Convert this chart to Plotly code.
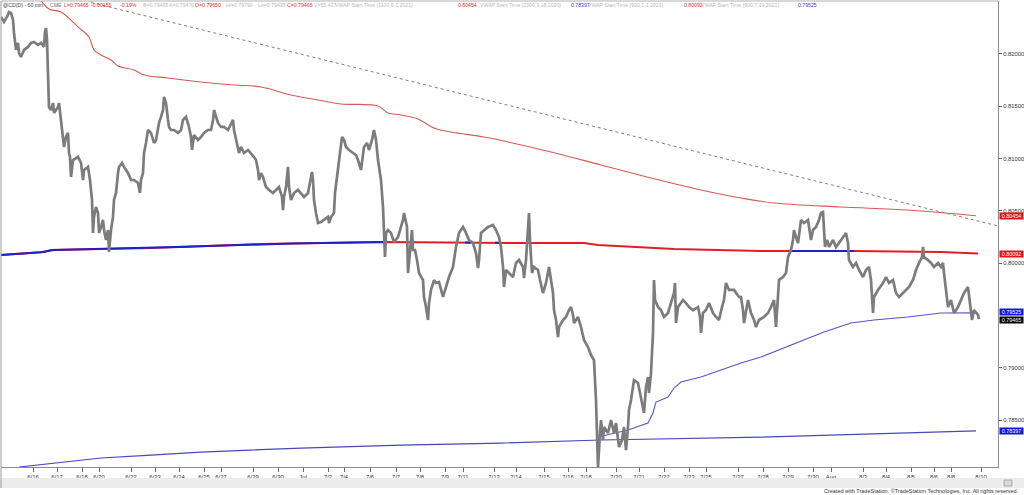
import numpy as np
import plotly.graph_objects as go

# ---------------- data ----------------
# hourly price path (bar index, close)
price_points = [
    (0,0.82353),(3,0.82306),(7,0.82373),(8,0.82401),(10,0.82392),(12,0.82325),(13,0.82201),(14,0.82105),
    (15,0.82038),(17,0.82105),(18,0.82009),(20,0.81971),(23,0.82038),(27,0.82067),(30,0.82105),(33,0.82114),
    (37,0.82086),(40,0.82105),(43,0.82067),(44,0.82210),(45,0.82248),(46,0.82134),(47,0.81723),(48,0.81493),
    (50,0.81464),(52,0.81531),(53,0.81436),(57,0.81493),(58,0.81531),(60,0.81340),(62,0.81178),(63,0.81111),
    (65,0.81206),(67,0.81245),(68,0.81053),(69,0.81015),(70,0.80824),(72,0.80986),(77,0.81015),(80,0.80958),
    (82,0.80795),(83,0.80891),(87,0.80920),(89,0.80795),(91,0.80604),(92,0.80289),(93,0.80442),(95,0.80537),
    (97,0.80480),(98,0.80289),(100,0.80346),(102,0.80413),(103,0.80317),(105,0.80222),(107,0.80317),(108,0.80107),
    (110,0.80317),(112,0.80442),(113,0.80604),(115,0.80671),(117,0.80862),(118,0.80920),(121,0.80958),(123,0.80920),
    (127,0.80862),(130,0.80795),(133,0.80795),(137,0.80767),(139,0.80671),(140,0.80795),(142,0.80862),(143,0.81053),
    (145,0.81149),(147,0.81273),(150,0.81245),(152,0.81178),(153,0.81149),(155,0.81178),(157,0.81273),(158,0.81340),
    (160,0.81398),(162,0.81464),(163,0.81589),(165,0.81531),(167,0.81369),(168,0.81302),(170,0.81273),(173,0.81273),
    (177,0.81245),(180,0.81273),(182,0.81369),(185,0.81398),(188,0.81302),(190,0.81206),(191,0.81082),(192,0.81178),
    (193,0.81225),(197,0.81178),(200,0.81206),(203,0.81245),(207,0.81273),(210,0.81273),(212,0.81369),(213,0.81464),
    (215,0.81398),(217,0.81340),(220,0.81302),(223,0.81302),(227,0.81273),(230,0.81340),(232,0.81369),(233,0.81273),
    (235,0.81178),(237,0.81082),(238,0.81053),(240,0.81111),(243,0.81053),(247,0.81082),(250,0.81053),(253,0.81015),
    (255,0.80986),(257,0.80891),(258,0.80795),(260,0.80862),
    (262,0.80824),(265,0.80728),(268,0.80700),(272,0.80671),(275,0.80700),(278,0.80728),(281,0.80633),(282,0.80508),
    (283,0.80633),(285,0.80728),(287,0.80920),(288,0.80728),(290,0.80604),(293,0.80671),(297,0.80700),(300,0.80671),
    (303,0.80633),(307,0.80671),(309,0.80767),(311,0.80872),(312,0.80795),(313,0.80604),(315,0.80480),(317,0.80384),
    (320,0.80394),(323,0.80413),(327,0.80442),(328,0.80384),(330,0.80442),(333,0.80480),(334,0.80671),(336,0.80824),
    (338,0.80986),(341,0.81206),(343,0.81178),(345,0.81111),(348,0.81082),(352,0.81053),(355,0.81034),(357,0.80986),
    (360,0.80891),(363,0.81111),(366,0.81149),(368,0.81082),(371,0.81178),(373,0.81273),(375,0.81178),(377,0.80986),
    (378,0.80920),(380,0.80795),(382,0.80537),(383,0.80289),(384,0.80059),(385,0.80289),(387,0.80317),(390,0.80289),
    (393,0.80203),(397,0.80250),(400,0.80346),(402,0.80413),(403,0.80480),(405,0.80384),(406,0.80346),(407,0.79906),
    (409,0.80155),(411,0.80317),(412,0.80126),(414,0.80126),(416,0.80030),(418,0.79906),(422,0.79839),(423,0.79677),
    (425,0.79581),(427,0.79457),(428,0.79619),(430,0.79744),(433,0.79839),(435,0.79811),(438,0.79820),(442,0.79677),
    (445,0.79772),(448,0.79868),(452,0.79964),(455,0.80155),(458,0.80289),(462,0.80346),(465,0.80289),(468,0.80222),
    (472,0.80193),(475,0.80097),(477,0.79954),(478,0.80030),(480,0.80289),(483,0.80317),(487,0.80346),(492,0.80365),
    (495,0.80317),(498,0.80250),
    (500,0.80155),(502,0.79964),(503,0.79772),(505,0.79935),(508,0.79906),(512,0.79868),(515,0.80002),(518,0.80030),
    (522,0.79964),(523,0.79858),(525,0.80030),(527,0.80317),(528,0.80480),(529,0.80222),(531,0.79906),(533,0.79964),
    (537,0.79935),(539,0.79839),(542,0.79715),(545,0.79811),(548,0.79964),(550,0.79839),(552,0.79715),(553,0.79552),
    (555,0.79457),(557,0.79294),(558,0.79390),(562,0.79457),(565,0.79486),(568,0.79552),(570,0.79581),(572,0.79505),
    (573,0.79428),(577,0.79486),(580,0.79390),(583,0.79266),(587,0.79199),(590,0.79122),(593,0.79074),(595,0.78692),
    (596,0.78377),(597,0.78052),(599,0.78377),(600,0.78501),(602,0.78310),(603,0.78434),(607,0.78377),(610,0.78501),
    (613,0.78377),(615,0.78472),(618,0.78243),(621,0.78310),(623,0.78434),(625,0.78214),(627,0.78434),(628,0.78596),
    (630,0.78692),(633,0.78883),(637,0.78855),(639,0.78759),(642,0.78596),(643,0.78568),(645,0.78816),(647,0.78912),
    (648,0.78759),(650,0.78950),(652,0.79333),(653,0.79839),(654,0.79648),(657,0.79581),(660,0.79552),(663,0.79486),
    (667,0.79524),(670,0.79619),(673,0.79715),(674,0.79811),(675,0.79428),(677,0.79581),(682,0.79648),(685,0.79619),
    (688,0.79581),(692,0.79552),(697,0.79581),(699,0.79486),(700,0.79333),(702,0.79524),(705,0.79552),(708,0.79619),
    (712,0.79524),(715,0.79486),(718,0.79457),(721,0.79581),(723,0.79648),(725,0.79811),(728,0.79744),(733,0.79744),
    (738,0.79677),(740,0.79677),(742,0.79552),(743,0.79428),(747,0.79648),(750,0.79524),(753,0.79457),(755,0.79390),
    (758,0.79457),(763,0.79486),(767,0.79524),(770,0.79581),(773,0.79648),(775,0.79390),(777,0.79648),(778,0.79839),
    (782,0.79868),(785,0.79906),(787,0.80059),(790,0.80126),(792,0.80222),(793,0.80317),(795,0.80250),(797,0.80193),
    (800,0.80413),(803,0.80384),(807,0.80413),(810,0.80222),(812,0.80317),(815,0.80346),(818,0.80413),(820,0.80480),
    (822,0.80489),(823,0.80317),(824,0.80155),(826,0.80222),(828,0.80155),(832,0.80222),(835,0.80155),(838,0.80193),
    (842,0.80250),(845,0.80289),(847,0.80193),(848,0.80030),(852,0.79964),(855,0.80002),(858,0.79935),(862,0.79868),
    (865,0.79935),(868,0.79964),(870,0.79839),(872,0.79524),(873,0.79677),(877,0.79744),(882,0.79811),(885,0.79868),
    (888,0.79811),(892,0.79839),(895,0.79715),(898,0.79677),(902,0.79715),(905,0.79744),(908,0.79772),(912,0.79839),
    (915,0.79935),(918,0.80002),(921,0.80059),(922,0.80155),(923,0.80059),(927,0.80030),(930,0.80002),(933,0.79964),
    (937,0.80002),(940,0.79964),(942,0.80002),(943,0.79906),(945,0.79715),(947,0.79581),(950,0.79648),(953,0.79524),
    (957,0.79581),(960,0.79648),(963,0.79715),(967,0.79772),(969,0.79619),(971,0.79457),(973,0.79552),(977,0.79505),
    (978,0.79465),
]

# VWAP from 1100, 6/1/2021 (upper red)
vwap_jun_bar = [40, 48, 60, 77, 88, 93, 100, 110, 117, 133, 143, 167, 200, 233, 260, 290, 317, 340, 377, 387,
                400, 417, 433, 450, 483, 507, 550, 600, 650, 700, 740, 773, 840, 907, 975]
vwap_jun = [0.82510, 0.82430, 0.82401, 0.82258, 0.82162, 0.82038, 0.81990, 0.81942, 0.81885, 0.81847, 0.81799,
            0.81770, 0.81732, 0.81703, 0.81684, 0.81608, 0.81560, 0.81522, 0.81503, 0.81436, 0.81417, 0.81378,
            0.81292, 0.81254, 0.81206, 0.81159, 0.81063, 0.80939, 0.80814, 0.80700, 0.80623, 0.80575, 0.80537,
            0.80508, 0.80454]

# VWAP from 930, 1/1/2021 (thick, blue/red)
vwap_ytd_bar = [0, 43, 50, 150, 260, 383, 520, 583, 597, 633, 673, 760, 853, 940, 977]
vwap_ytd = [0.80078, 0.80107, 0.80126, 0.80145, 0.80183, 0.80203, 0.80193, 0.80193, 0.80174, 0.80155, 0.80136,
            0.80116, 0.80116, 0.80107, 0.80092]
vwap_ytd_blue_spans = [(0, 384), (464, 470), (494, 499), (790, 853)]

# VWAP from 600, 7/19/2021 (thin blue)
vwap_jul_bar = [597, 627, 647, 652, 655, 667, 673, 680, 700, 720, 740, 760, 802, 823, 850, 873, 907, 940, 977]
vwap_jul = [0.78338, 0.78405, 0.78472, 0.78568, 0.78673, 0.78721, 0.78807, 0.78864, 0.78912, 0.78979, 0.79046,
            0.79103, 0.79266, 0.79342, 0.79428, 0.79457, 0.79486, 0.79524, 0.79525]

# VWAP from 2300, 3/18/2020 (bottom blue)
vwap_2020_bar = [18, 60, 100, 150, 200, 300, 400, 500, 600, 760, 975]
vwap_2020 = [0.78052, 0.78099, 0.78138, 0.78166, 0.78195, 0.78233, 0.78262, 0.78281, 0.78310, 0.78338, 0.78397]

# dotted trend line (two anchor points)
trend_bar = [90, 1000]
trend_price = [0.82492, 0.80349]

# axis ticks
x_tick_bars = [32, 56, 81, 98, 130, 154, 178, 203, 220, 252, 277, 302, 327, 343, 369, 395, 419, 444, 462, 493,
               515, 543, 567, 585, 615, 638, 663, 688, 705, 737, 762, 787, 812, 830, 862, 885, 910, 933, 950, 980]
x_tick_labels = ["6/16", "6/17", "6/18", "6/20", "6/22", "6/23", "6/24", "6/25", "6/27", "6/29", "6/30", "Jul",
                 "7/2", "7/4", "7/6", "7/7", "7/8", "7/9", "7/11", "7/13", "7/14", "7/15", "7/16", "7/18", "7/20",
                 "7/21", "7/22", "7/23", "7/25", "7/27", "7/28", "7/29", "7/30", "Aug", "8/3", "8/4", "8/5", "8/6",
                 "8/8", "8/10"]
# 0.79500 is hidden behind the last-price boxes in the reference
y_ticks = [0.785, 0.790, 0.800, 0.805, 0.810, 0.815, 0.820]

# right-edge value boxes
box_values = [0.80454, 0.80092, 0.79525, 0.79465, 0.78397]
box_colors = ["#e4141b", "#e4141b", "#1414e0", "#000000", "#1414e0"]
box_nudge = [0, 0, 1, -1, 0]

# ---------------- figure ----------------
W, H = 1024, 495
ML, MR, MT, MB = 1, 26, 1, 28
PW, PH = W - ML - MR, H - MT - MB
Y_RANGE = [0.78052, 0.82506]
X_RANGE = [0, PW]

FONT = "Liberation Sans, Arial, sans-serif"
RED = "#e0302a"
GRAYTXT = "#b8b8b8"

price_bar = [p[0] for p in price_points]
price_close = [p[1] for p in price_points]

fig = go.Figure()

fig.add_trace(go.Scatter(x=trend_bar, y=trend_price, mode="lines",
                         line=dict(color="#808080", width=1, dash="dot"), hoverinfo="skip"))
fig.add_trace(go.Scatter(x=vwap_2020_bar, y=vwap_2020, mode="lines",
                         line=dict(color="#4848b8", width=1.2), hoverinfo="skip"))
fig.add_trace(go.Scatter(x=vwap_jun_bar, y=vwap_jun, mode="lines",
                         line=dict(color="#d65a55", width=1.1, shape="spline"), hoverinfo="skip"))
fig.add_trace(go.Scatter(x=vwap_jul_bar, y=vwap_jul, mode="lines",
                         line=dict(color="#5656c4", width=1.1), hoverinfo="skip"))
fig.add_trace(go.Scatter(x=vwap_ytd_bar, y=vwap_ytd, mode="lines",
                         line=dict(color="#e02020", width=2), hoverinfo="skip"))
for a, b in vwap_ytd_blue_spans:
    xs = np.linspace(a, b, 30)
    ys = np.interp(xs, vwap_ytd_bar, vwap_ytd)
    fig.add_trace(go.Scatter(x=xs, y=ys, mode="lines",
                             line=dict(color="#2020c8", width=2), hoverinfo="skip"))
fig.add_trace(go.Scatter(x=price_bar, y=price_close, mode="lines",
                         line=dict(color="#7c7c7c", width=2.7), hoverinfo="skip"))

annotations = []
header_tokens = [
    ("@CD(D) - 60 min", "#3c3c3c", 2), ("CME", "#707070", 49), ("L=0.79465", RED, 63),
    ("-0.00155", RED, 90), ("-0.19%", RED, 119), ("B=0.79465", GRAYTXT, 142), ("A=0.79470", GRAYTXT, 168),
    ("O=0.79650", RED, 194), ("Hi=0.79790", GRAYTXT, 225), ("Lo=0.79435", GRAYTXT, 257),
    ("C=0.79465", RED, 286), ("V=55,437", GRAYTXT, 313),
    ("VWAP Start Time (1100,6,1,2021)", GRAYTXT, 334), ("0.80454", RED, 457),
    ("VWAP Start Time (2300,3,18,2020)", GRAYTXT, 479), ("0.78397", "#3a3ad0", 570),
    ("VWAP Start Time (930,1,1,2021)", GRAYTXT, 587), ("0.80092", RED, 683),
    ("VWAP Start Time (600,7,19,2021)", GRAYTXT, 700), ("0.79525", "#3a3ad0", 797),
]
for txt, col, px in header_tokens:
    annotations.append(dict(text=txt, xref="paper", yref="paper", x=(px - ML) / PW, y=1,
                            xanchor="left", yanchor="top", showarrow=False, borderpad=0,
                            font=dict(family=FONT, size=5.2, color=col)))
for v, c, n in zip(box_values, box_colors, box_nudge):
    annotations.append(dict(text="%.5f" % v, xref="paper", yref="y", x=1 + 1 / PW, y=v,
                            xanchor="left", yanchor="middle", showarrow=False, yshift=n,
                            bgcolor=c, borderpad=0, width=23, height=6,
                            font=dict(family=FONT, size=5.4, color="#ffffff")))
annotations.append(dict(text="Created with TradeStation. \u00a9TradeStation Technologies, Inc. All rights reserved.",
                        xref="paper", yref="paper", x=(1021 - ML) / PW, y=(PH + MT - 491) / PH,
                        xanchor="right", yanchor="middle", showarrow=False,
                        font=dict(family=FONT, size=5.5, color="#333333")))

shapes = [
    dict(type="rect", xref="paper", yref="paper", x0=-ML / PW, x1=(W - ML) / PW,
         y0=(PH + MT - 488) / PH, y1=(PH + MT - 478) / PH, fillcolor="#ececec", line=dict(width=0)),
    dict(type="rect", xref="paper", yref="paper", x0=(1004 - ML) / PW, x1=(1012 - ML) / PW,
         y0=(PH + MT - 486) / PH, y1=(PH + MT - 480) / PH, fillcolor="#d8d8d8",
         line=dict(color="#a0a0a0", width=0.8)),
    dict(type="line", xref="paper", yref="paper", x0=0, x1=0, y0=(PH + MT - 488) / PH, y1=1,
         line=dict(color="#9a9a9a", width=1)),
    dict(type="line", xref="paper", yref="paper", x0=0, x1=1, y0=1, y1=1,
         line=dict(color="#b0b0b0", width=1)),
]

fig.update_layout(
    width=W, height=H, margin=dict(l=ML, r=MR, t=MT, b=MB),
    paper_bgcolor="#ffffff", plot_bgcolor="#ffffff", showlegend=False,
    annotations=annotations, shapes=shapes,
    xaxis=dict(range=X_RANGE, tickmode="array", tickvals=x_tick_bars, ticktext=x_tick_labels,
               showgrid=False, zeroline=False, showline=True, linecolor="#8c8c8c", linewidth=1,
               ticks="outside", ticklen=4, tickcolor="#666666", tickwidth=1,
               tickfont=dict(family=FONT, size=5.8, color="#333333")),
    yaxis=dict(range=Y_RANGE, side="right", tickmode="array", tickvals=y_ticks,
               ticktext=["%.5f" % t for t in y_ticks], showgrid=False, zeroline=False,
               showline=True, linecolor="#8c8c8c", linewidth=1, ticks="outside", ticklen=3,
               tickcolor="#666666", tickfont=dict(family=FONT, size=5.8, color="#333333")),
)

fig.write_html("out.html", config={"displayModeBar": False},
               post_script="document.body.style.margin='0px';document.body.style.padding='0px';")
